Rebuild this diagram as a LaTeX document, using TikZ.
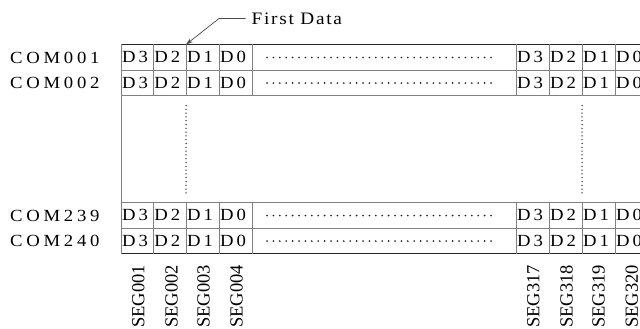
\documentclass[tikz,border=0pt]{standalone}
\usepackage{graphicx}
\usepackage{fontspec}
\setmainfont{Liberation Serif}
\newfontfamily\cellfont[LetterSpace=17]{Liberation Serif}
\newfontfamily\comfont[LetterSpace=20]{Liberation Serif}
\newfontfamily\titlefont[LetterSpace=9]{Liberation Serif}
\usetikzlibrary{arrows.meta}

% slightly widened text, as in the display-RAM map
\newcommand\widtxt[2][1.1]{\scalebox{#1}[1]{#2}}

\begin{document}
\begin{tikzpicture}[x=1pt,y=-1pt,
  gridline/.style={draw=black!50, line width=0.8pt},
  frameline/.style={draw=black!85, line width=0.9pt},
  celltxt/.style={inner sep=0pt, anchor=west, font=\cellfont\fontsize{17}{17}\selectfont},
  comtxt/.style={inner sep=0pt, anchor=west, font=\comfont\fontsize{17}{17}\selectfont},
  segtxt/.style={inner sep=0pt, anchor=east, rotate=90, font=\fontsize{18.5}{18.5}\selectfont},
  rowdots/.style={draw=black!85, line width=1.9pt, line cap=round, dash pattern=on 0pt off 6.4pt},
  coldots/.style={draw=black!80, line width=1.5pt, line cap=round, dash pattern=on 0pt off 3.8pt},
  leader/.style={draw=black!70, line width=0.7pt}
]
\clip (0,0) rectangle (640,329);
\fill[white] (0,0) rectangle (640,329);

% horizontal rules of the two row groups
\foreach \y in {70,95.5,202.5,228}
  \draw[gridline] (121,\y) -- (648,\y);
\draw[frameline] (121,44.5) -- (648,44.5);
\draw[frameline] (121,253.5) -- (648,253.5);

% column rules
\foreach \x in {153.3,186,219,252,516,549,582,615,648} {
  \draw[gridline] (\x,44.5) -- (\x,95.5);
  \draw[gridline] (\x,202.5) -- (\x,253.5);
}
\draw[gridline] (121,44.5) -- (121,253.5);

% cell contents (left aligned in each cell)
\foreach \r/\y in {a/57.25,b/82.75,c/215.25,d/240.75} {
  \foreach \c/\x/\lbl in {1/121.8/D3,2/154.1/D2,3/186.8/D1,4/219.8/D0,
                          5/516.8/D3,6/549.8/D2,7/582.8/D1,8/615.8/D0}
    \node[celltxt] (cell\r\c) at (\x,\y) {\widtxt{\lbl}};
  \draw[rowdots] (267,\y+0.3) -- (497,\y+0.3);
}

% skipped rows
\draw[coldots] (186,105.5) -- (186,193);
\draw[coldots] (582,105.5) -- (582,193);

% common (row) labels
\node[comtxt] (com001) at (10,57.8) {\widtxt{COM001}};
\node[comtxt] (com002) at (10,83.3) {\widtxt{COM002}};
\node[comtxt] (com239) at (10,215.8) {\widtxt{COM239}};
\node[comtxt] (com240) at (10,241.3) {\widtxt{COM240}};

% segment (column) labels
\foreach \n/\x in {001/138.3,002/171.5,003/203.5,004/236.5,
                   317/533.3,318/566.5,319/598.5,320/631.7}
  \node[segtxt] (seg\n) at (\x,265) {SEG\n};

% first data marker
\node[inner sep=0pt, anchor=west, font=\titlefont\fontsize{17.5}{17.5}\selectfont] (fd) at (251.5,18.5) {\widtxt[1.1]{First Data}};
\coordinate (fdbend) at (219,18.5);
\coordinate (fdtip) at (186,44.5);
\draw[leader, -{Stealth[length=7pt,width=4.5pt]}] ([xshift=-6pt]fd.west) -- (fdbend) -- (fdtip);
\end{tikzpicture}
\end{document}
